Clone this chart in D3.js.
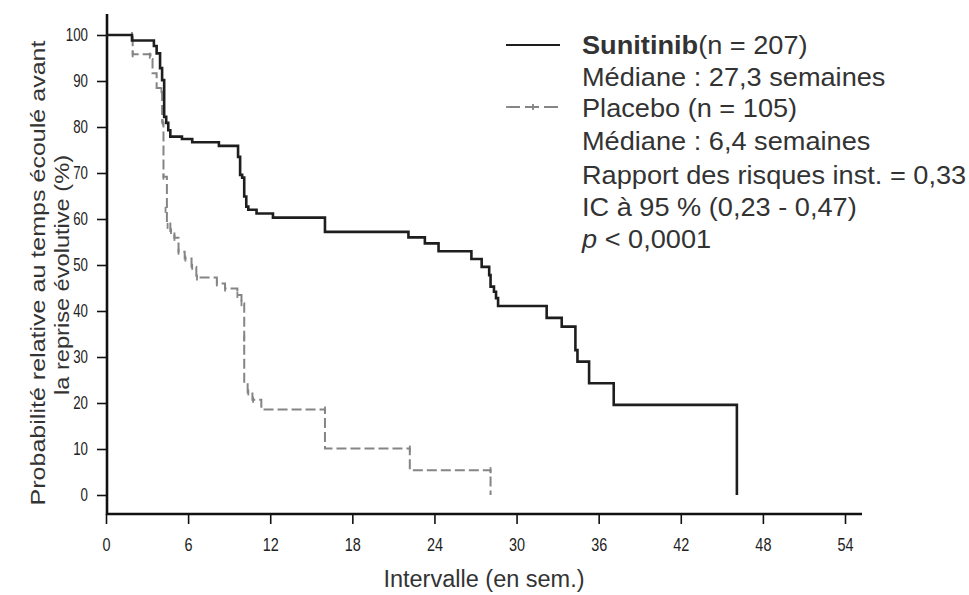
<html>
<head>
<style>
  body { margin: 0; background: #fff; }
  text { font-family: "Liberation Sans", Arial, sans-serif; }
</style>
</head>
<body>
<script src="https://d3js.org/d3.v7.min.js"></script>
<script>

// Sunitinib steps: time (weeks) and survival (%) after each drop
var sunTimes = [1.9, 3.5, 3.7, 3.95, 4.1, 4.25, 4.4, 4.55, 4.7, 5.55, 6.3, 8.25, 9.65, 9.8, 9.95, 10.1, 10.25, 10.4, 11.0, 12.2, 16.0, 22.1, 23.3, 24.3, 26.7, 27.45, 28.0, 28.1, 28.35, 28.5, 28.65, 32.2, 33.3, 34.3, 34.45, 35.3, 37.1, 46.1],
    sunValues = [98.8, 97.6, 96, 92.8, 90.2, 82.2, 80.9, 79.3, 77.9, 77.4, 76.7, 75.9, 73.5, 69.6, 69, 64.9, 62.7, 62, 61.2, 60.3, 57.2, 56, 54.7, 53, 51.3, 49.6, 47.8, 45.3, 44.2, 42.8, 41.1, 38.5, 36.6, 31.5, 29, 24.3, 19.6, 0];

// Placebo steps
var plaTimes = [1.95, 3.25, 3.4, 3.7, 4.1, 4.2, 4.45, 4.7, 5.0, 5.3, 5.75, 6.25, 6.6, 8.1, 8.7, 9.6, 9.9, 10.1, 10.35, 10.7, 11.35, 16.0, 22.2, 28.1],
    plaValues = [95.8, 94.8, 91.7, 88.5, 81, 69.2, 59, 57.4, 55.9, 52.9, 51.4, 49.6, 47.3, 46, 44.9, 43.5, 41.7, 24.3, 22.3, 20.7, 18.6, 10.1, 5.4, 0];

// Placebo censoring marks
var plaCensorTimes = [1.9, 1.95, 3.2, 4.05, 4.15, 4.2, 4.35, 4.5, 4.75, 5.0, 5.3, 5.8, 6.3, 6.65, 8.1, 8.7, 9.6, 9.9, 10.1, 10.4, 10.75, 16.0, 22.2, 28.1],
    plaCensorValues = [100, 95.8, 95.5, 88, 81, 69.2, 62, 58.5, 57.4, 55.9, 52.9, 51.4, 49.6, 47.3, 46, 44.9, 43.5, 41.7, 34, 22.3, 20.7, 18.6, 10.1, 5.4];

var xTicks = [0, 6, 12, 18, 24, 30, 36, 42, 48, 54],
    yTicks = [0, 10, 20, 30, 40, 50, 60, 70, 80, 90, 100];

var legendLines = [
  [{t: 'Sunitinib', w: 'bold'}, {t: '(n = 207)'}],
  [{t: 'Médiane : 27,3 semaines'}],
  [{t: 'Placebo (n = 105)'}],
  [{t: 'Médiane : 6,4 semaines'}],
  [{t: 'Rapport des risques inst. = 0,33'}],
  [{t: 'IC à 95 % (0,23 - 0,47)'}],
  [{t: 'p', s: 'italic'}, {t: ' < 0,0001'}]
];

var width = 969,
    height = 595;

var svg = d3.select('body').append('svg')
    .attr('width', width)
    .attr('height', height);

var x = d3.scaleLinear().domain([0, 54]).range([106, 845]),
    y = d3.scaleLinear().domain([0, 100]).range([495, 35]);

var axisColor = '#111',
    placeboColor = '#858585',
    tickScale = 0.76;   // tick labels are tall and narrow

// x axis
var gx = svg.append('g')
    .attr('transform', 'translate(0,514)')
    .call(d3.axisBottom(x).tickValues(xTicks).tickSize(10).tickSizeOuter(0).tickPadding(14));
gx.select('.domain').remove();
gx.append('line')
    .attr('x1', 106).attr('x2', 862)
    .attr('stroke', axisColor).attr('stroke-width', 2.6);
gx.selectAll('.tick line').attr('stroke', axisColor).attr('stroke-width', 1.6);
gx.selectAll('.tick text')
    .attr('fill', '#222')
    .attr('transform', 'scale(' + tickScale + ',1)')
    .style('font-family', '"Liberation Sans", Arial, sans-serif')
    .style('font-size', '19px');

// y axis
var gy = svg.append('g')
    .attr('transform', 'translate(107,0)')
    .call(d3.axisLeft(y).tickValues(yTicks).tickSize(10).tickSizeOuter(0).tickPadding(9));
gy.select('.domain').remove();
gy.append('line')
    .attr('y1', 14).attr('y2', 515)
    .attr('stroke', axisColor).attr('stroke-width', 2.6);
gy.selectAll('.tick line').attr('stroke', axisColor).attr('stroke-width', 1.6);
gy.selectAll('.tick text')
    .attr('fill', '#222')
    .attr('x', -19 / tickScale)
    .attr('transform', 'scale(' + tickScale + ',1)')
    .style('font-family', '"Liberation Sans", Arial, sans-serif')
    .style('font-size', '17.5px');

// axis titles
svg.append('text')
    .attr('x', 484).attr('y', 587)
    .attr('text-anchor', 'middle')
    .attr('fill', '#333')
    .style('font-size', '23.5px')
    .text('Intervalle (en sem.)');

var yTitle = svg.append('g')
    .attr('transform', 'translate(0,273) rotate(-90)');
yTitle.append('text')
    .attr('x', 0).attr('y', 45)
    .attr('text-anchor', 'middle')
    .attr('fill', '#333')
    .attr('textLength', 465)
    .attr('lengthAdjust', 'spacingAndGlyphs')
    .style('font-size', '20px')
    .text('Probabilité relative au temps écoulé avant');
yTitle.append('text')
    .attr('x', -2).attr('y', 69)
    .attr('text-anchor', 'middle')
    .attr('fill', '#333')
    .attr('textLength', 240)
    .attr('lengthAdjust', 'spacingAndGlyphs')
    .style('font-size', '20px')
    .text('la reprise évolutive (%)');

// step curves
var step = d3.line()
    .curve(d3.curveStepAfter)
    .x(function(d) { return x(d[0]); })
    .y(function(d) { return y(d[1]); });

var sunPoints = [[0, 100]].concat(sunTimes.map(function(t, i) { return [t, sunValues[i]]; })),
    plaPoints = [[0, 100]].concat(plaTimes.map(function(t, i) { return [t, plaValues[i]]; }));

svg.append('path')
    .attr('d', step(plaPoints))
    .attr('fill', 'none')
    .attr('stroke', placeboColor)
    .attr('stroke-width', 2)
    .attr('stroke-dasharray', '10,4');

svg.selectAll('.censor')
    .data(plaCensorTimes)
    .enter().append('line')
    .attr('class', 'censor')
    .attr('x1', function(d) { return x(d); })
    .attr('x2', function(d) { return x(d); })
    .attr('y1', function(d, i) { return y(plaCensorValues[i]) - 3; })
    .attr('y2', function(d, i) { return y(plaCensorValues[i]) + 3; })
    .attr('stroke', placeboColor)
    .attr('stroke-width', 1.8);

svg.append('path')
    .attr('d', step(sunPoints))
    .attr('fill', 'none')
    .attr('stroke', '#1e1e1e')
    .attr('stroke-width', 2.6);

// legend
svg.append('line')
    .attr('x1', 506).attr('x2', 560)
    .attr('y1', 45).attr('y2', 45)
    .attr('stroke', '#1e1e1e').attr('stroke-width', 2);
svg.append('line')
    .attr('x1', 506).attr('x2', 560)
    .attr('y1', 107).attr('y2', 107)
    .attr('stroke', placeboColor).attr('stroke-width', 1.8)
    .attr('stroke-dasharray', '14,5');
svg.append('line')
    .attr('x1', 533).attr('x2', 533)
    .attr('y1', 104).attr('y2', 110)
    .attr('stroke', placeboColor).attr('stroke-width', 1.8);

var legendBase = [54, 86, 117, 150, 184, 216, 248];

var legend = svg.append('g')
    .attr('transform', 'translate(582,0) scale(1.045,1)');

legendLines.forEach(function(parts, i) {
  var t = legend.append('text')
      .attr('x', 0)
      .attr('y', legendBase[i])
      .attr('fill', '#333')
      .style('font-size', '26px');
  parts.forEach(function(p) {
    t.append('tspan')
        .style('font-weight', p.w || 'normal')
        .style('font-style', p.s || 'normal')
        .text(p.t);
  });
});

</script>
</body>
</html>
